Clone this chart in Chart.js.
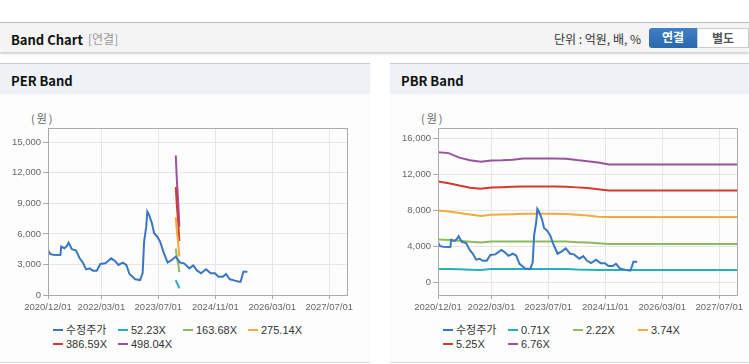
<!DOCTYPE html>
<html>
<head>
<meta charset="utf-8">
<script src="https://cdn.jsdelivr.net/npm/chart.js@4.4.1/dist/chart.umd.min.js"></script>
<style>
  body { margin: 0; width: 749px; height: 364px; background: #fff; position: relative; overflow: hidden;
         font-family: "Liberation Sans", "Noto Sans CJK KR", sans-serif; }
  .topbar { position: absolute; left: 0; top: 22px; width: 749px; height: 29px; background: #f4f4f4;
            border-top: 1px solid #bbb; box-shadow: 0 2px 2px rgba(0,0,0,0.18); }
  .topbar .ttl { position: absolute; left: 11px; top: 7px; font: bold 13px "Noto Sans CJK KR", sans-serif; color: #111; }
  .topbar .sub { position: absolute; left: 88px; top: 7px; font: 12px "Noto Sans CJK KR", sans-serif; color: #999; }
  .topbar .unit { position: absolute; right: 108px; top: 7px; font: 12px "Noto Sans CJK KR", sans-serif; color: #333; }
  .btn { position: absolute; top: 5px; height: 20px; line-height: 20px; text-align: center;
         font: bold 12px "Noto Sans CJK KR", sans-serif; box-sizing: border-box; }
  .btn.on { left: 649px; width: 48px; background: linear-gradient(#3f80c6, #2a67ac); color: #fff; border-radius: 3px 0 0 3px; }
  .btn.off { left: 697px; width: 52px; background: #fff; color: #555; border: 1px solid #ccc; }
  .panel { position: absolute; top: 63px; height: 298px; border-top: 1px solid #ccc; border-bottom: 1px solid #ddd; background: #fdfdfd; }
  .panel .hd { height: 30px; background: #eef1f6; }
  .panel .hd span { position: absolute; left: 11px; top: 7px; font: bold 13px "Noto Sans CJK KR", sans-serif; color: #111; }
  .unitlbl { position: absolute; top: 110px; font: 11px "Noto Sans CJK KR", sans-serif; color: #666; letter-spacing: 2px; }
  canvas { position: absolute; }
  .legend { position: absolute; top: 323px; display: grid; grid-template-columns: repeat(4, 65px); row-gap: 0; }
  .legend div { height: 14px; line-height: 14px; font-size: 11px; color: #333; white-space: nowrap; }
  .legend i { display: inline-block; width: 10px; height: 2px; vertical-align: middle; margin-right: 3px; position: relative; top: -1px; }
</style>
</head>
<body>
<div class="topbar">
  <span class="ttl">Band Chart</span><span class="sub">[연결]</span>
  <span class="unit">단위 : 억원, 배, %</span>
  <div class="btn on">연결</div><div class="btn off">별도</div>
</div>
<div class="panel" style="left:0;width:370px"><div class="hd"><span>PER Band</span></div></div>
<div class="panel" style="left:390px;width:359px"><div class="hd"><span>PBR Band</span></div></div>
<div class="unitlbl" style="left:31px">(원)</div>
<div class="unitlbl" style="left:421px">(원)</div>
<canvas id="perChart" style="left:0;top:96px" width="370" height="220"></canvas>
<canvas id="pbrChart" style="left:390px;top:96px" width="359" height="220"></canvas>
<div class="legend" id="perLegend" style="left:53px"></div>
<div class="legend" id="pbrLegend" style="left:443px"></div>
<script>
// x values are months counted from 2020/12
const xTickMonths = [0, 15, 31, 47, 63, 79];
const xTickLabels = ['2020/12/01', '2022/03/01', '2023/07/01', '2024/11/01', '2026/03/01', '2027/07/01'];

const priceMonths = [0, 0.6, 1.5, 3, 3.5, 3.7, 4.6, 5.3, 5.8, 6.7, 7.9, 8.9, 9.8, 10.7, 11.7, 12.6, 13.7, 14.7,
  16.1, 17.8, 18.7, 19.8, 21, 22, 22.9, 24.5, 25.9, 26.6, 27, 27.6, 27.9, 28.4, 29.2, 29.8, 30.7, 31.5, 32.4,
  33.6, 34.8, 35.9, 37.1, 38.2, 39.7, 40.8, 41.9, 43, 44.4, 45.7, 46.9, 47.9, 49.1, 50, 51.1, 52.5, 53.7, 54.1,
  54.9, 56];
const priceValues = [4420, 4030, 3950, 3930, 3950, 4750, 4590, 4810, 5140, 4490, 4360, 3600, 3180, 2520, 2620,
  2390, 2390, 3050, 3110, 3600, 3370, 2950, 3180, 2950, 2060, 1540, 1470, 2190, 5240, 6710, 8190, 7860, 7040,
  6060, 5730, 5240, 4260, 3180, 3440, 3770, 3180, 3110, 2620, 2910, 2390, 2130, 2520, 2130, 2130, 1800, 1800,
  2060, 1540, 1410, 1310, 1310, 2290, 2290];

// PER band (only a few points exist)
const perMonths = [35.9, 36.2, 36.6, 36.9];
const perLabels = ['52.23X', '163.68X', '275.14X', '386.59X', '498.04X'];
const per1 = [1470, 1200, 950, 650];
const per2 = [4550, 3750, 3000, 2250];
const per3 = [7650, 6300, 5000, 3800];
const per4 = [10600, 8800, 7000, 5300];
const per5 = [13700, 11300, 9000, 6700];
const perYTicks = [0, 3000, 6000, 9000, 12000, 15000];

// PBR band
const pbrMonths = [0, 3, 6, 9, 12, 15, 18, 21, 24, 27, 30, 33, 36, 39, 42, 45, 48, 84];
const pbrLabels = ['0.71X', '2.22X', '3.74X', '5.25X', '6.76X'];
const pbr1 = [1490, 1470, 1440, 1400, 1380, 1490, 1490, 1490, 1490, 1490, 1490, 1490, 1480, 1420, 1400, 1380, 1380, 1380];
const pbr2 = [4780, 4720, 4620, 4520, 4430, 4540, 4540, 4540, 4550, 4550, 4550, 4550, 4540, 4470, 4420, 4350, 4280, 4280];
const pbr3 = [8000, 7900, 7720, 7550, 7400, 7520, 7550, 7580, 7630, 7630, 7630, 7630, 7620, 7540, 7440, 7300, 7290, 7290];
const pbr4 = [11250, 11050, 10780, 10550, 10420, 10570, 10600, 10650, 10680, 10680, 10680, 10680, 10660, 10580, 10500, 10380, 10230, 10230];
const pbr5 = [14500, 14400, 13900, 13600, 13450, 13580, 13600, 13650, 13800, 13800, 13800, 13800, 13780, 13620, 13500, 13350, 13130, 13130];
const pbrYTicks = [0, 4000, 8000, 12000, 16000];

const priceLabel = '수정주가';
const colors = ['#3a77c2', '#25b1ba', '#8dbb5c', '#f2aa3c', '#d23a2e', '#99529f'];

function pts(xs, ys) {
    return xs.map((x, i) => ({ x: x, y: ys[i] }));
}

const frame = {
    id: 'frame',
    afterDraw(chart) {
        const a = chart.chartArea, c = chart.ctx;
        c.save();
        c.strokeStyle = '#aaa';
        c.lineWidth = 1;
        c.strokeRect(Math.round(a.left) + 0.5, Math.round(a.top) + 0.5, Math.round(a.right - a.left), Math.round(a.bottom - a.top));
        c.restore();
    }
};

const tickFont = { family: '"Liberation Sans", sans-serif', size: 9.5 };

function makeChart(id, bandMonths, bands, names, yMin, yMax, yTicks, rightPad) {
    const datasets = [{
        label: priceLabel,
        data: pts(priceMonths, priceValues),
        borderColor: colors[0]
    }];
    bands.forEach((b, i) => {
        datasets.push({ label: names[i], data: pts(bandMonths, b), borderColor: colors[i + 1] });
    });
    datasets.forEach(d => {
        d.borderWidth = 2;
        d.pointRadius = 0;
        d.fill = false;
        d.tension = 0;
    });
    return new Chart(document.getElementById(id), {
        type: 'line',
        data: { datasets: datasets },
        options: {
            responsive: false,
            animation: false,
            events: [],
            layout: { padding: { top: 32, right: rightPad, left: 0, bottom: 0 } },
            plugins: { legend: { display: false }, tooltip: { enabled: false } },
            scales: {
                x: {
                    type: 'linear',
                    min: 0,
                    max: 84,
                    afterBuildTicks: s => { s.ticks = xTickMonths.map(v => ({ value: v })); },
                    afterFit: s => { s.height = 21; },
                    grid: { color: '#e6e6e6', tickColor: '#aaa', tickLength: 4 },
                    border: { color: '#aaa' },
                    ticks: {
                        autoSkip: false,
                        maxRotation: 0,
                        padding: 3,
                        color: '#666',
                        font: tickFont,
                        callback: (v, i) => xTickLabels[i]
                    }
                },
                y: {
                    min: yMin,
                    max: yMax,
                    afterBuildTicks: s => { s.ticks = yTicks.map(v => ({ value: v })); },
                    afterFit: s => { s.width = 48; },
                    grid: { color: '#e6e6e6', tickColor: '#aaa', tickLength: 5 },
                    border: { color: '#aaa' },
                    ticks: {
                        padding: 2,
                        color: '#666',
                        font: tickFont,
                        callback: v => v.toLocaleString('en-US')
                    }
                }
            }
        },
        plugins: [frame]
    });
}

function makeLegend(id, names) {
    const box = document.getElementById(id);
    [priceLabel].concat(names).forEach((n, i) => {
        const d = document.createElement('div');
        d.innerHTML = '<i style="background:' + colors[i] + '"></i>' + n;
        box.appendChild(d);
    });
}

makeChart('perChart', perMonths, [per1, per2, per3, per4, per5], perLabels, 0, 16400, perYTicks, 23);
makeChart('pbrChart', pbrMonths, [pbr1, pbr2, pbr3, pbr4, pbr5], pbrLabels, -1420, 17200, pbrYTicks, 12);
makeLegend('perLegend', perLabels);
makeLegend('pbrLegend', pbrLabels);
</script>
</body>
</html>
